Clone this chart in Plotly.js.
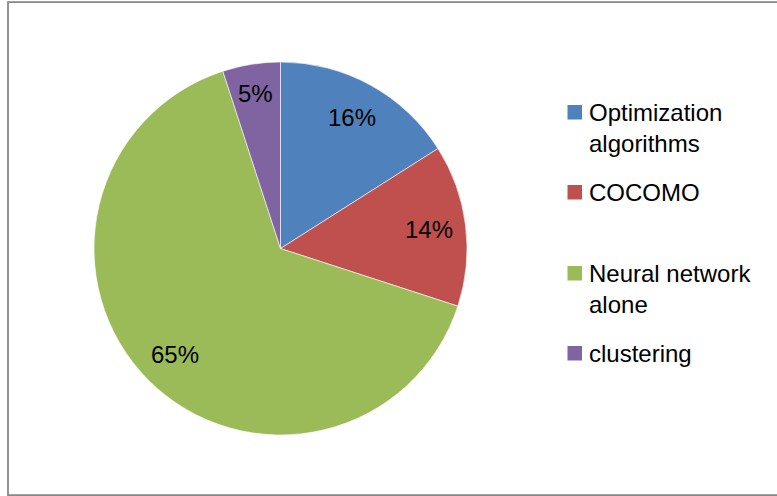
<!DOCTYPE html>
<html>
<head>
<meta charset="utf-8">
<script src="https://cdn.plot.ly/plotly-3.0.1.min.js"></script>
<style>
  html, body { margin: 0; padding: 0; background: #fff; }
  #chart { width: 777px; height: 496px; }
</style>
</head>
<body>
<div id="chart"></div>
<script>
// Share of approaches (percent)
const categories = ["Optimization algorithms", "COCOMO", "Neural network alone", "clustering"];
const legendLines = [["Optimization", "algorithms"], ["COCOMO"], ["Neural network", "alone"], ["clustering"]];
const shares = [16, 14, 65, 5];
const colors = ["#4F81BD", "#C0504D", "#9BBB59", "#8064A2"];

const W = 777, H = 496;
const FONT = "Liberation Sans, Arial, sans-serif";

// Pie placement in pixels
const cx = 280.5, cy = 248.5, R = 186.5;
const px = x => x / W;
const py = y => 1 - y / H;

const trace = {
  type: "pie",
  labels: categories,
  values: shares,
  sort: false,
  direction: "clockwise",
  rotation: 0,
  textinfo: "none",
  hoverinfo: "label+percent",
  showlegend: false,
  marker: { colors: colors, line: { color: "rgba(255,255,255,0.6)", width: 1 } },
  domain: { x: [px(cx - R), px(cx + R)], y: [py(cy + R), py(cy - R)] }
};

// Percent labels at mid-angle of each slice; thin slices sit a little further out
const total = shares.reduce((a, b) => a + b, 0);
const annotations = [];
let acc = 0;
shares.forEach((v, i) => {
  const share = v / total;
  const mid = (acc + v / 2) / total * 2 * Math.PI;
  acc += v;
  const r = (share < 0.1 ? 0.84 : 0.8) * R;
  const x = cx + r * Math.sin(mid);
  const y = cy - r * Math.cos(mid);
  annotations.push({
    xref: "paper", yref: "paper",
    x: px(x), y: py(y),
    xanchor: "center", yanchor: "middle",
    text: Math.round(share * 100) + "%",
    showarrow: false,
    font: { family: FONT, size: 24, color: "#000" }
  });
});

// Outer frame, legend swatches and labels
const shapes = [{
  type: "rect", xref: "paper", yref: "paper",
  x0: px(8), x1: px(W + 4), y0: py(495), y1: py(2),
  line: { color: "#878787", width: 1.75 }, fillcolor: "rgba(0,0,0,0)"
}];
const legendTop = [105, 185, 266, 346];
legendLines.forEach((lines, i) => {
  const top = legendTop[i];
  shapes.push({
    type: "rect", xref: "paper", yref: "paper",
    x0: px(567.5), x1: px(582), y0: py(top + 14.5), y1: py(top),
    line: { width: 0 }, fillcolor: colors[i]
  });
  annotations.push({
    xref: "paper", yref: "paper",
    x: px(587), y: py(top - 8),
    xanchor: "left", yanchor: "top", align: "left",
    text: lines.join("<br>"),
    showarrow: false,
    font: { family: FONT, size: 24, color: "#000" }
  });
});

const layout = {
  width: W, height: H,
  margin: { l: 0, r: 0, t: 0, b: 0 },
  paper_bgcolor: "#fff",
  showlegend: false,
  shapes: shapes,
  annotations: annotations
};

Plotly.newPlot("chart", [trace], layout, { displayModeBar: false, staticPlot: true });
</script>
</body>
</html>
